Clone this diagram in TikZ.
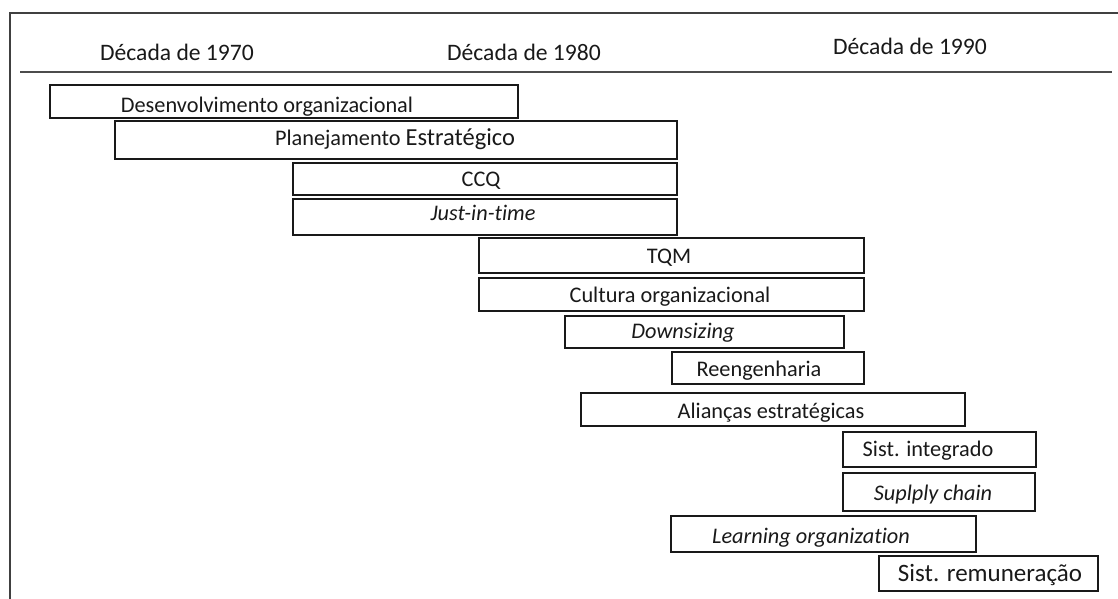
\documentclass[tikz,border=0pt]{standalone}
\usepackage{fontspec}
\setmainfont{Carlito}[Ligatures={NoCommon}, RawFeature={-liga}]
\begin{document}
\begin{tikzpicture}[x=1pt,y=-1pt,
  itembox/.style={draw=black!90, line width=1.3pt, inner sep=0pt},
  itemtxt/.style={anchor=base, inner sep=0pt, text=black!90, font=\fontsize{22.3}{26}\selectfont},
  headtxt/.style={anchor=base, inner sep=0pt, text=black!90, font=\fontsize{23.6}{28}\selectfont},
  frameline/.style={draw=black!75, line width=1.6pt},
  ruleline/.style={draw=black!70, line width=1.5pt}]
\useasboundingbox (0,0) rectangle (1118,599);
% frame
\coordinate (ftl) at (10,13);
\coordinate (ftr) at (1118,13);
\coordinate (fbl) at (10,599);
\draw[frameline] (fbl) -- (ftl) -- (ftr);
% rule under headers
\coordinate (rl) at (20,72);
\coordinate (rr) at (1112,72);
\draw[ruleline] (rl) -- (rr);
% headers
\node[headtxt] (h70) at (177,61) {Década de 1970};
\node[headtxt] (h80) at (524,61) {Década de 1980};
\node[headtxt] (h90) at (910,55) {Década de 1990};
% boxes
\node[itembox, minimum width=468pt, minimum height=33pt] (b1) at (284,101.5) {};
\node[itemtxt] (t1) at (267,113) {Desenvolvimento organizacional};
\node[itembox, minimum width=562pt, minimum height=38pt] (b2) at (396,140) {};
\node[itemtxt] (t2) at (395,146) {Planejamento {\fontsize{24.5}{28}\selectfont Estratégico}};
\node[itembox, minimum width=384pt, minimum height=32pt] (b3) at (485,179) {};
\node[itemtxt] (t3) at (481,186) {CCQ};
\node[itembox, minimum width=384pt, minimum height=36pt] (b4) at (485,217) {};
\node[itemtxt] (t4) at (483,220) {\itshape Just-in-time};
\node[itembox, minimum width=385pt, minimum height=35pt] (b5) at (671.5,255.5) {};
\node[itemtxt] (t5) at (669,263) {TQM};
\node[itembox, minimum width=385pt, minimum height=33pt] (b6) at (671.5,294.5) {};
\node[itemtxt] (t6) at (670,302) {Cultura organizacional};
\node[itembox, minimum width=279pt, minimum height=32pt] (b7) at (704.5,332) {};
\node[itemtxt] (t7) at (683,338) {\itshape Downsizing};
\node[itembox, minimum width=192pt, minimum height=32pt] (b8) at (768,368) {};
\node[itemtxt] (t8) at (759,376) {Reengenharia};
\node[itembox, minimum width=384pt, minimum height=33pt] (b9) at (773,409.5) {};
\node[itemtxt] (t9) at (771,418) {Alianças estratégicas};
\node[itembox, minimum width=193pt, minimum height=35pt] (b10) at (939.5,449.5) {};
\node[itemtxt] (t10) at (928,456) {Sist. integrado};
\node[itembox, minimum width=192pt, minimum height=38pt] (b11) at (939,492) {};
\node[itemtxt] (t11) at (933,500) {\itshape Suplply chain};
\node[itembox, minimum width=305pt, minimum height=36pt] (b12) at (823.5,534) {};
\node[itemtxt] (t12) at (811,543) {\itshape Learning organization};
\node[itembox, minimum width=219pt, minimum height=35pt] (b13) at (988.5,573.5) {};
\node[itemtxt, font=\fontsize{25}{29}\selectfont] (t13) at (990,581) {Sist. remuneração};
\end{tikzpicture}
\end{document}
